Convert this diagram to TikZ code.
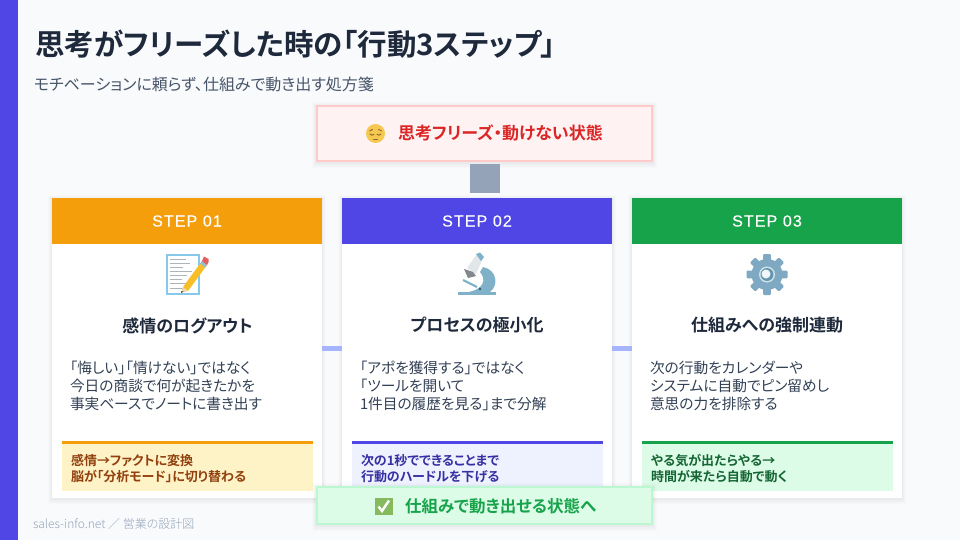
\documentclass[tikz,border=0pt]{standalone}
\usepackage{fontspec}
\setmainfont{Noto Sans CJK JP}[RawFeature=+palt,BoldFont={Noto Sans CJK JP Bold}]
\newfontfamily\jpbold{Noto Sans CJK JP Bold}[RawFeature=+palt]
\newfontfamily\jplight{Noto Sans CJK JP Light}[RawFeature=+palt]
\newfontfamily\stepfont{Liberation Sans}[LetterSpace=7,FakeBold=0.35]
\definecolor{bgc}{HTML}{F8FAFC}
\definecolor{ind}{HTML}{4F46E5}
\definecolor{amb}{HTML}{F59E0B}
\definecolor{grn}{HTML}{16A34A}
\definecolor{ink}{HTML}{1E293B}
\definecolor{body}{HTML}{334155}
\definecolor{sub}{HTML}{475569}
\definecolor{slate}{HTML}{94A3B8}
\definecolor{lav}{HTML}{A5B4FC}
\definecolor{redfill}{HTML}{FEF2F2}
\definecolor{redline}{HTML}{FECACA}
\definecolor{redtext}{HTML}{DC2626}
\definecolor{grnfill}{HTML}{DCFCE7}
\definecolor{grnline}{HTML}{BBF7D0}
\definecolor{ambfill}{HTML}{FEF3C7}
\definecolor{indfill}{HTML}{EEF2FF}
\definecolor{ambtext}{HTML}{92400E}
\definecolor{indtext}{HTML}{3730A3}
\definecolor{grntext}{HTML}{166534}
\definecolor{faceY}{HTML}{F7C84F}
\definecolor{faceD}{HTML}{8A6A30}
\definecolor{memoB}{HTML}{87C8EB}
\definecolor{memoL}{HTML}{AAB4B9}
\definecolor{penY}{HTML}{F7BE28}
\definecolor{penW}{HTML}{F0D7A5}
\definecolor{penK}{HTML}{3C3C3C}
\definecolor{penF}{HTML}{96BED2}
\definecolor{penR}{HTML}{E45F5F}
\definecolor{mscope}{HTML}{7FB2C9}
\definecolor{mtube}{HTML}{E1E6E8}
\definecolor{mgrey}{HTML}{82878C}
\definecolor{mdark}{HTML}{3C5A64}
\definecolor{gearc}{HTML}{7FA9C2}
\definecolor{gearA}{HTML}{D2E4EB}
\definecolor{gearB}{HTML}{6496AF}
\definecolor{gearC}{HTML}{F0F6F8}
\definecolor{chk}{HTML}{87B95F}
\tikzset{
 x=1pt,y=-1pt,
 txt/.style={inner sep=0pt,outer sep=0pt},
 cardbox/.style={fill=white,draw=none,minimum width=270pt,minimum height=300pt,inner sep=0pt,outer sep=0pt},
 head/.style={minimum width=270pt,minimum height=46pt,inner sep=0pt,outer sep=0pt,text=white,font=\stepfont\fontsize{16}{16}\selectfont},
 cardtitle/.style={txt,text=ink,font=\jpbold\fontsize{17}{17}\selectfont},
 bodytxt/.style={txt,text=body,anchor=north west,align=left,font=\fontsize{14.7}{18}\selectfont},
 notebar/.style={minimum width=250.5pt,minimum height=50pt,inner sep=0pt,outer sep=0pt,anchor=north west},
 notetxt/.style={txt,anchor=north west,align=left,font=\jpbold\fontsize{13}{16.5}\selectfont},
 statebox/.style={minimum width=335pt,inner sep=0pt,outer sep=0pt,line width=2pt},
 flow/.style={line width=#1},
}
\newcommand{\softshadow}[4]{%
 \fill[black,opacity=0.012] (#1-4,#2-3) rectangle (#3+4,#4+6);
 \fill[black,opacity=0.012] (#1-3,#2-2) rectangle (#3+3,#4+5);
 \fill[black,opacity=0.016] (#1-2,#2-1) rectangle (#3+2,#4+4);
 \fill[black,opacity=0.022] (#1-1,#2) rectangle (#3+1,#4+2);
}
\begin{document}
\begin{tikzpicture}
\useasboundingbox (0,0) rectangle (960,540);
\fill[bgc] (0,0) rectangle (960,540);
\fill[ind] (0,0) rectangle (18,540);
\node[txt,anchor=west,text=ink,font=\jpbold\fontsize{29.5}{30}\selectfont] (title) at (35,44) {思考がフリーズした時の「行動3ステップ」};
\node[txt,anchor=west,text=sub,font=\fontsize{16}{16}\selectfont] (subtitle) at (34,84) {モチベーションに頼らず、仕組みで動き出す処方箋};

% cards
\softshadow{52}{198}{322}{498}
\softshadow{342}{198}{612}{498}
\softshadow{632}{198}{902}{498}
\node[cardbox,anchor=north west] (card1) at (52,198) {};
\node[cardbox,anchor=north west] (card2) at (342,198) {};
\node[cardbox,anchor=north west] (card3) at (632,198) {};
\node[head,fill=amb,anchor=north west] (h1) at (52,198) {STEP 01};
\node[head,fill=ind,anchor=north west] (h2) at (342,198) {STEP 02};
\node[head,fill=grn,anchor=north west] (h3) at (632,198) {STEP 03};

% top state
\softshadow{316}{105}{653}{162}
\node[statebox,minimum height=55pt,anchor=north west,fill=redfill,draw=redline] (start) at (317,106) {};
\node[txt,anchor=west,text=redtext,font=\jpbold\fontsize{17}{17}\selectfont] (startlabel) at (398,133) {思考フリーズ・動けない状態};
% connectors
\draw[flow=30pt,slate,shorten <=3pt,shorten >=5pt,line cap=butt] (start.south) -- (start.south |- h2.north);
\draw[flow=5pt,lav] (card1.east) -- (card2.west);
\draw[flow=5pt,lav] (card2.east) -- (card3.west);

% face emoji
\fill[faceY] (375.5,133.5) circle (9.5);
\draw[faceD,line width=.9pt,line cap=round] (369.5,131) -- (372.5,129.5) (378.5,129.5) -- (381.5,131);
\draw[faceD,line width=1pt,line cap=round] (370,134) .. controls (371,135.5) and (373,135.5) .. (374,134.3);
\draw[faceD,line width=1pt,line cap=round] (377,134.3) .. controls (378,135.5) and (380,135.5) .. (381,134);
\draw[faceD,line width=1pt,line cap=round] (373.5,139.5) -- (377.5,139.5);

% memo emoji
\fill[white] (167,255) rectangle (199,294);
\draw[memoB,line width=1.2pt] (167,255) rectangle (199,294);
\foreach \yy/\xe in {259/186,263/190,267/183,271/192,275/187,279/182,283/187,288/189}{\draw[memoL,line width=.7pt] (170,\yy) -- (\xe,\yy);}
\fill[penY] (183,287) -- (202,261) -- (207,265) -- (188,291) -- cycle;
\fill[penW] (183,287) -- (188,291) -- (181,293) -- cycle;
\fill[penK] (181.5,291) -- (183.5,291.7) -- (181,293) -- cycle;
\fill[penF] (200,263.5) -- (202,261) -- (207,265) -- (205,267.5) -- cycle;
\fill[penR] (202,261) -- (204,256.5) -- (208.5,259) -- (208.5,262) -- (207,265) -- cycle;

% microscope emoji
\fill[mscope] (458,291.5) rectangle (496,295);
\fill[mscope] (483,267) .. controls (497,270) and (499,285) .. (490,292) -- (469,292) .. controls (483,289) and (487,280) .. (480,272) -- cycle;
\fill[mtube] (467,268) -- (477,254) -- (483,258) -- (476,274) -- cycle;
\fill[mscope] (476,254) -- (480,252.5) -- (484,257) -- (481,261) -- cycle;
\fill[mgrey] (464,269) -- (473,272) -- (476,276) -- (468,278) -- cycle;
\draw[mscope,line width=2.2pt] (463,280) -- (477,287);
\fill[mdark] (480,289) circle (1.3);

% gear emoji
\begin{scope}[shift={(767,274.5)}]
\foreach \a in {0,45,...,315}{\fill[gearc,rotate=\a,rounded corners=1pt] (-3.8,-20.5) rectangle (3.8,-12);}
\fill[gearc] (0,0) circle (15.5);
\fill[gearA] (0,0) circle (8);
\fill[gearB] (0,0) circle (6.5);
\fill[gearC] (-1,-.5) circle (4.5);
\end{scope}

\node[cardtitle] (t1) at (187.5,325.5) {感情のログアウト};
\node[cardtitle] (t2) at (477,325.5) {プロセスの極小化};
\node[cardtitle] (t3) at (767,325.5) {仕組みへの強制連動};

\node[bodytxt] (b1) at (70,361) {「悔しい」「情けない」ではなく\\今日の商談で何が起きたかを\\事実ベースでノートに書き出す};
\node[bodytxt] (b2) at (360,361) {「アポを獲得する」ではなく\\「ツールを開いて\\1件目の履歴を見る」まで分解};
\node[bodytxt] (b3) at (650,361) {次の行動をカレンダーや\\システムに自動でピン留めし\\意思の力を排除する};

% notes
\node[notebar,fill=ambfill] (n1) at (62,441) {};
\node[notebar,fill=indfill] (n2) at (352,441) {};
\node[notebar,fill=grnfill] (n3) at (642,441) {};
\draw[amb,line width=3pt] (n1.north west)++(0,1.5) -- ++(250.5,0);
\draw[ind,line width=3pt] (n2.north west)++(0,1.5) -- ++(250.5,0);
\draw[grn,line width=3pt] (n3.north west)++(0,1.5) -- ++(250.5,0);
\node[notetxt,text=ambtext] (nt1) at (71,454) {感情→ファクトに変換\\脳が「分析モード」に切り替わる};
\node[notetxt,text=indtext] (nt2) at (361,454) {次の1秒でできることまで\\行動のハードルを下げる};
\node[notetxt,text=grntext] (nt3) at (651,454) {やる気が出たらやる→\\時間が来たら自動で動く};

% bottom state
\softshadow{316}{486}{653}{525}
\node[statebox,minimum height=37pt,anchor=north west,fill=grnfill,draw=grnline] (goal) at (317,487) {};
\fill[chk] (375,497.5) rectangle (392.5,515);
\draw[white,line width=2.4pt] (378.5,506.5) -- (382,511) -- (389,500.5);
\node[txt,anchor=west,text=grn,font=\jpbold\fontsize{16.5}{17}\selectfont] (goallabel) at (405,506) {仕組みで動き出せる状態へ};

\node[txt,anchor=west,text=slate,font=\jplight\fontsize{12}{12}\selectfont] (foot) at (33,524) {sales-info.net ／ 営業の設計図};
\end{tikzpicture}
\end{document}
